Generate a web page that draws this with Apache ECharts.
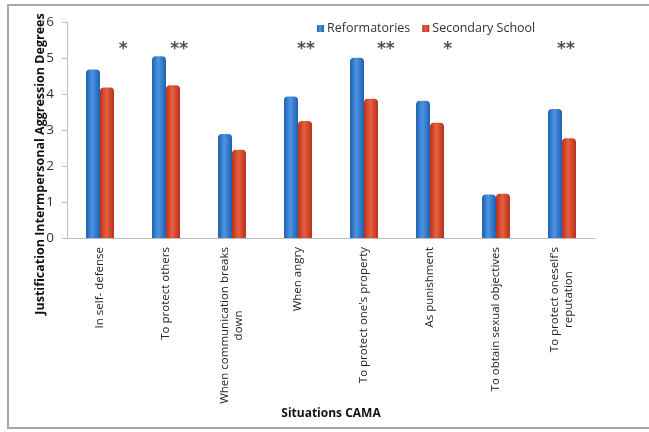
<!DOCTYPE html>
<html>
<head>
<meta charset="utf-8">
<script src="https://cdn.jsdelivr.net/npm/echarts@6/dist/echarts.min.js"></script>
<style>
html,body{margin:0;padding:0;background:#fff;}
#chart{width:649px;height:432px;}
</style>
</head>
<body>
<div id="chart"></div>
<script>
const categories = [
  "In self- defense",
  "To protect others",
  "When communication breaks\ndown",
  "When angry",
  "To protect one's property",
  "As punishment",
  "To obtain sexual objectives",
  "To protect oneself's\nreputation"
];
const reformatories = [4.68, 5.05, 2.89, 3.93, 5.01, 3.81, 1.21, 3.58];
const secondarySchool = [4.18, 4.24, 2.45, 3.25, 3.87, 3.20, 1.23, 2.77];
const sigPositions = [0.85, 1.70, 3.62, 4.83, 5.77, 7.56];
const sigLabels = ["*", "**", "**", "**", "*", "**"];
const sigLevel = 5.24;
const yTicks = [0, 1, 2, 3, 4, 5, 6];

const chart = echarts.init(document.getElementById('chart'), null, {renderer: 'canvas'});

function grad(dark, light) {
  return new echarts.graphic.LinearGradient(0, 0, 1, 0, [
    {offset: 0, color: dark},
    {offset: 0.45, color: light},
    {offset: 1, color: dark}
  ]);
}

const option = {
  backgroundColor: '#ffffff',
  animation: false,
  graphic: [
    {type: 'rect', shape: {x: 8, y: 5, width: 648, height: 423},
     style: {fill: 'none', stroke: '#a8a8a8', lineWidth: 2}},
    {type: 'text', x: 40, y: 164, rotation: Math.PI / 2,
     style: {text: 'Justification Intermpersonal Aggression Degrees', font: 'bold 12.5px "Open Sans", sans-serif',
             fill: '#111', textAlign: 'center', textVerticalAlign: 'middle'}}
  ],
  legend: {
    left: 312, top: 17,
    itemWidth: 7, itemHeight: 7, itemGap: 12,
    icon: 'rect',
    textStyle: {fontSize: 12.5, color: '#333', fontFamily: '"Open Sans", sans-serif', padding: [0,0,0,-2]},
    data: ['Reformatories', 'Secondary School']
  },
  grid: {left: 67, right: 54, top: 22, bottom: 194, containLabel: false},
  xAxis: [
    {
      type: 'category',
      data: categories,
      name: 'Situations CAMA',
      nameLocation: 'middle',
      nameGap: 167,
      nameTextStyle: {fontWeight: 'bold', fontSize: 12, color: '#111', fontFamily: '"Open Sans", sans-serif'},
      axisLine: {lineStyle: {color: '#bdbdbd', width: 1}},
      axisTick: {show: false},
      axisLabel: {rotate: 90, fontSize: 11.5, color: '#222', margin: 9, interval: 0,
                  fontFamily: '"Open Sans", sans-serif', lineHeight: 14, align: 'right', verticalAlign: 'middle',
                  formatter: v => v.split('\n').map(s => '{c|' + s + '}').join('\n'),
                  rich: {c: {align: 'center', fontSize: 11.5, color: '#222', lineHeight: 14, fontFamily: '"Open Sans", sans-serif'}}}
    },
    {
      type: 'value', min: 0, max: 8, show: false, position: 'bottom'
    }
  ],
  yAxis: {
    type: 'value', min: 0, max: 6, interval: 1,
    axisLine: {show: true, lineStyle: {color: '#bdbdbd'}},
    axisTick: {show: true, inside: false, length: 5, lineStyle: {color: '#bdbdbd'}},
    splitLine: {show: false},
    axisLabel: {fontSize: 13.5, color: '#333', margin: 13, fontFamily: '"Open Sans", sans-serif',
                formatter: v => yTicks.includes(v) ? String(v) : ''}
  },
  series: [
    {
      name: 'Reformatories', type: 'bar', data: reformatories,
      barWidth: 14, barGap: '0%',
      itemStyle: {color: grad('#1f5fb0', '#4d95e3'), borderRadius: [4, 4, 0, 0]}
    },
    {
      name: 'Secondary School', type: 'bar', data: secondarySchool,
      barWidth: 14,
      itemStyle: {color: grad('#b8311c', '#e8603f'), borderRadius: [4, 4, 0, 0]}
    },
    {
      name: 'sig', type: 'scatter', xAxisIndex: 1,
      data: sigPositions.map((p, i) => [p, sigLevel, sigLabels[i]]),
      symbolSize: 0, silent: true,
      label: {show: true, position: 'inside', formatter: p => p.data[2],
              fontSize: 17, fontWeight: 'bold', color: '#222', fontFamily: '"DejaVu Sans", sans-serif'}
    }
  ]
};
chart.setOption(option);
</script>
</body>
</html>
